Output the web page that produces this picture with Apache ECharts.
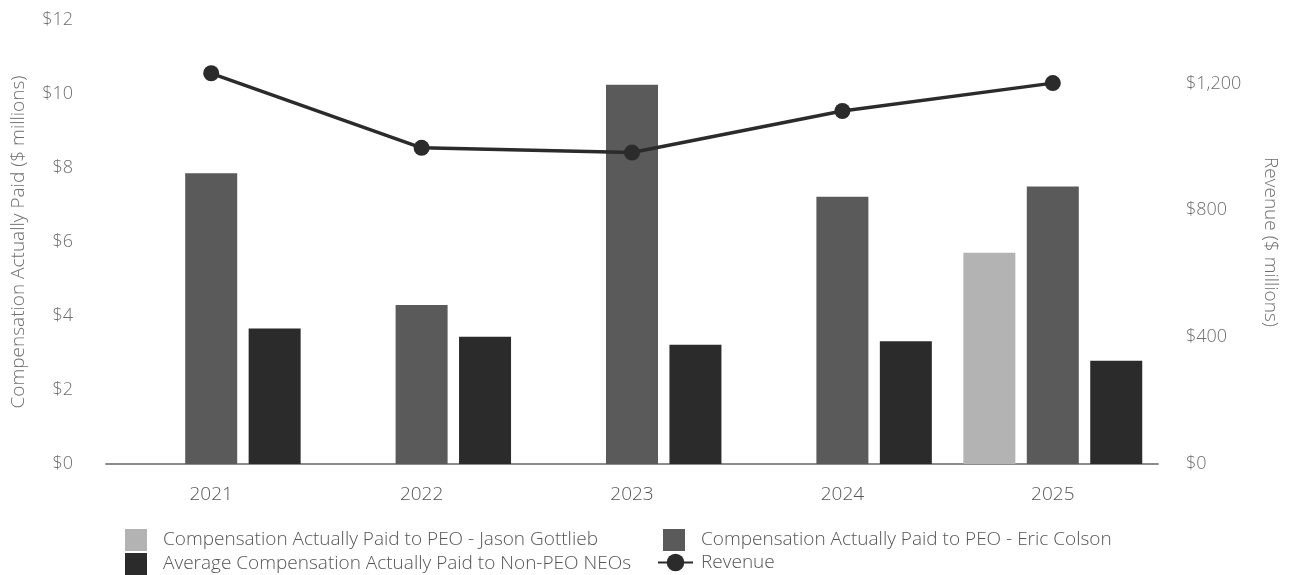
<!DOCTYPE html>
<html>
<head>
<meta charset="utf-8">
<script src="https://cdn.jsdelivr.net/npm/echarts@6/dist/echarts.min.js"></script>
<style>
  html, body { margin: 0; padding: 0; background: #fff; }
  #chart { width: 1293px; height: 575px; }
</style>
</head>
<body>
<div id="chart"></div>
<script>
// years on the x axis
var years = ['2021', '2022', '2023', '2024', '2025'];
// compensation actually paid ($ millions)
var capGottlieb = [null, null, null, null, 5.71];
var capColson = [7.86, 4.30, 10.25, 7.22, 7.50];
var capNeos = [3.66, 3.44, 3.22, 3.32, 2.79];
// revenue ($ millions)
var revenue = [1232, 997, 982, 1113, 1201];

var FONT = "'Open Sans', 'Noto Sans', sans-serif";
var LABEL = '#6e6e6e';

var chart = echarts.init(document.getElementById('chart'), null, { renderer: 'canvas' });

// one legend per entry so each can sit exactly where the original has it
function legendBox(name, left, top, w, gap, icon) {
  var l = {
    data: [name],
    left: left,
    top: top,
    padding: 0,
    itemWidth: w,
    itemHeight: 22,
    selectedMode: false,
    textStyle: { fontFamily: FONT, fontSize: 19, fontWeight: 300, color: '#555', padding: [0, 0, 0, gap] }
  };
  if (icon) l.icon = icon;
  return l;
}

chart.setOption({
  animation: false,
  textStyle: { fontFamily: FONT },
  grid: { left: 106, right: 135, top: 20, bottom: 111 },
  legend: [
    legendBox('Compensation Actually Paid to PEO - Jason Gottlieb', 125, 529, 22, 11, 'rect'),
    legendBox('Average Compensation Actually Paid to Non-PEO NEOs', 125, 553, 22, 11, 'rect'),
    legendBox('Compensation Actually Paid to PEO - Eric Colson', 663, 529, 22, 11, 'rect'),
    legendBox('Revenue', 657, 553, 35, 3)
  ],
  xAxis: {
    type: 'category',
    data: years,
    axisLine: { lineStyle: { color: '#8c8c8c', width: 2 } },
    axisTick: { show: false },
    axisLabel: { color: '#555', fontSize: 19, fontWeight: 300, margin: 21 }
  },
  yAxis: [{
    type: 'value',
    min: 0,
    max: 12,
    interval: 2,
    name: 'Compensation Actually Paid ($ millions)',
    nameLocation: 'middle',
    nameGap: 78,
    nameTextStyle: { color: LABEL, fontSize: 19, fontWeight: 300 },
    splitLine: { show: false },
    axisLine: { show: false },
    axisTick: { show: false },
    axisLabel: { color: LABEL, fontSize: 18, fontWeight: 300, margin: 33, formatter: '${value}' }
  }, {
    type: 'value',
    min: 0,
    max: 1400,
    interval: 400,
    position: 'right',
    name: 'Revenue ($ millions)',
    nameLocation: 'middle',
    nameRotate: -90,
    nameGap: 103,
    nameTextStyle: { color: LABEL, fontSize: 19, fontWeight: 300 },
    splitLine: { show: false },
    axisLine: { show: false },
    axisTick: { show: false },
    axisLabel: {
      color: LABEL, fontSize: 18, fontWeight: 300, margin: 28, showMaxLabel: false,
      formatter: function (v) { return '$' + v.toLocaleString('en-US'); }
    }
  }],
  series: [{
    name: 'Compensation Actually Paid to PEO - Jason Gottlieb',
    type: 'bar',
    data: capGottlieb,
    barWidth: 52,
    barGap: '22%',
    itemStyle: { color: '#b3b3b3' }
  }, {
    name: 'Compensation Actually Paid to PEO - Eric Colson',
    type: 'bar',
    data: capColson,
    barWidth: 52,
    barGap: '22%',
    itemStyle: { color: '#5a5a5a' }
  }, {
    name: 'Average Compensation Actually Paid to Non-PEO NEOs',
    type: 'bar',
    data: capNeos,
    barWidth: 52,
    barGap: '22%',
    itemStyle: { color: '#2b2b2b' }
  }, {
    name: 'Revenue',
    type: 'line',
    yAxisIndex: 1,
    data: revenue,
    symbol: 'circle',
    symbolSize: 16,
    lineStyle: { color: '#2b2b2b', width: 3.5 },
    itemStyle: { color: '#2b2b2b' },
    z: 5
  }]
});
</script>
</body>
</html>
